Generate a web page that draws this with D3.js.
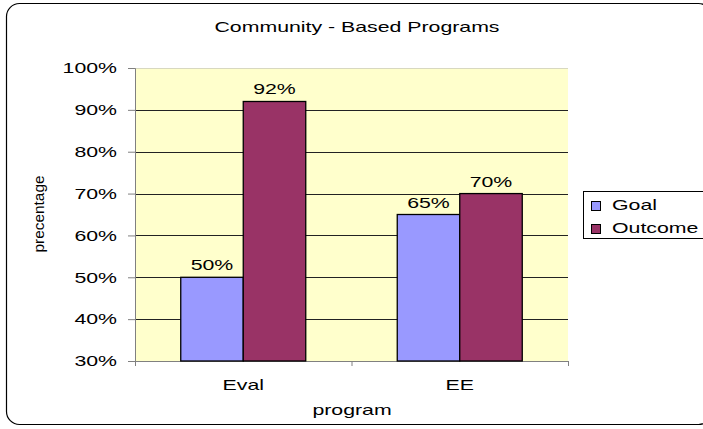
<!DOCTYPE html>
<html>
<head>
<meta charset="utf-8">
<script src="https://cdn.jsdelivr.net/npm/d3@7"></script>
<style>
  body { margin: 0; background: #fff; }
  text { font-family: "Liberation Sans", Arial, sans-serif; fill: #000; }
</style>
</head>
<body>
<div id="chart"></div>
<script>
var categories = ["Eval", "EE"];
var seriesNames = ["Goal", "Outcome"];
var goalValues = [0.50, 0.65];
var outcomeValues = [0.92, 0.70];
var seriesColors = ["#9999FF", "#993366"];
var yTicks = [0.3, 0.4, 0.5, 0.6, 0.7, 0.8, 0.9, 1.0];

var width = 703, height = 429;
var plot = { left: 135, top: 68, right: 568, bottom: 361 };
var stretch = 1.42; // the original text is drawn wide

var svg = d3.select("#chart").append("svg")
  .attr("width", width)
  .attr("height", height);

// put a text at x,y and widen it horizontally
function wide(sel, x, y) {
  return sel.attr("x", 0).attr("y", 0)
    .attr("transform", "translate(" + x + "," + y + ") scale(" + stretch + ",1)");
}

// outer chart frame
svg.append("rect")
  .attr("x", 6.5).attr("y", 3.5)
  .attr("width", 705).attr("height", 421)
  .attr("rx", 13).attr("ry", 13)
  .attr("fill", "#fff")
  .attr("stroke", "#000")
  .attr("stroke-width", 1.2);

var x0 = d3.scaleBand()
  .domain(categories)
  .range([plot.left, plot.right])
  .paddingInner(0)
  .paddingOuter(0);

var x1 = d3.scaleBand()
  .domain(seriesNames)
  .range([0, 125]);

var y = d3.scaleLinear()
  .domain([0.3, 1.0])
  .range([plot.bottom, plot.top]);

// plot area
svg.append("rect")
  .attr("x", plot.left).attr("y", plot.top)
  .attr("width", plot.right - plot.left)
  .attr("height", plot.bottom - plot.top)
  .attr("fill", "#FFFFCC");

svg.append("line")
  .attr("x1", plot.left).attr("x2", plot.right)
  .attr("y1", plot.top + 0.5).attr("y2", plot.top + 0.5)
  .attr("stroke", "#d8d8c0");

// gridlines
svg.append("g")
  .selectAll("line")
  .data(yTicks.filter(function(d) { return d > 0.3 && d < 1.0; }))
  .enter().append("line")
  .attr("x1", plot.left).attr("x2", plot.right)
  .attr("y1", function(d) { return Math.round(y(d)) + 0.5; })
  .attr("y2", function(d) { return Math.round(y(d)) + 0.5; })
  .attr("stroke", "#222");

// y axis
var yAxis = d3.axisLeft(y)
  .tickValues(yTicks)
  .tickFormat(d3.format(".0%"))
  .tickSize(7)
  .tickPadding(11);

var gy = svg.append("g")
  .attr("transform", "translate(" + plot.left + ",0)")
  .call(yAxis);
gy.select(".domain").attr("stroke", "#808080");
gy.selectAll(".tick line").attr("stroke", "#808080");
gy.selectAll(".tick text")
  .attr("font-size", 15)
  .attr("font-family", "Liberation Sans, Arial, sans-serif")
  .attr("fill", "#000")
  .each(function() {
    var t = d3.select(this);
    var tx = +t.attr("x");
    wide(t, tx, 0);
  });

// x axis
svg.append("line")
  .attr("x1", plot.left).attr("x2", plot.right)
  .attr("y1", plot.bottom + 0.5).attr("y2", plot.bottom + 0.5)
  .attr("stroke", "#808080");

svg.append("g")
  .selectAll("line")
  .data([plot.left, x0("EE"), plot.right])
  .enter().append("line")
  .attr("x1", function(d) { return d + 0.5; })
  .attr("x2", function(d) { return d + 0.5; })
  .attr("y1", plot.bottom).attr("y2", plot.bottom + 5)
  .attr("stroke", "#808080");

svg.append("g")
  .selectAll("text")
  .data(categories)
  .enter().append("text")
  .attr("text-anchor", "middle")
  .attr("font-size", 15)
  .text(function(d) { return d; })
  .each(function(d) {
    wide(d3.select(this), x0(d) + x0.bandwidth() / 2, 390);
  });

// bars
var data = categories.map(function(c, i) {
  return { cat: c, values: [goalValues[i], outcomeValues[i]] };
});

var groups = svg.append("g")
  .selectAll("g")
  .data(data)
  .enter().append("g")
  .attr("transform", function(d) {
    return "translate(" + (x0(d.cat) + (x0.bandwidth() - 125) / 2) + ",0)";
  });

groups.selectAll("rect")
  .data(function(d) {
    return d.values.map(function(v, i) { return { name: seriesNames[i], value: v, color: seriesColors[i] }; });
  })
  .enter().append("rect")
  .attr("x", function(d) { return x1(d.name); })
  .attr("y", function(d) { return y(d.value); })
  .attr("width", x1.bandwidth())
  .attr("height", function(d) { return y(0.3) - y(d.value); })
  .attr("fill", function(d) { return d.color; })
  .attr("stroke", "#000")
  .attr("stroke-width", 1.3);

groups.selectAll("text")
  .data(function(d) {
    return d.values.map(function(v, i) { return { name: seriesNames[i], value: v }; });
  })
  .enter().append("text")
  .attr("text-anchor", "middle")
  .attr("font-size", 15)
  .text(function(d) { return d3.format(".0%")(d.value); })
  .each(function(d) {
    wide(d3.select(this), x1(d.name) + x1.bandwidth() / 2, y(d.value) - 7);
  });

// titles
wide(svg.append("text"), 357, 32)
  .attr("text-anchor", "middle")
  .attr("font-size", 15)
  .text("Community - Based Programs");

wide(svg.append("text"), 352, 415)
  .attr("text-anchor", "middle")
  .attr("font-size", 15)
  .text("program");

svg.append("text")
  .attr("transform", "translate(44,214) rotate(-90)")
  .attr("text-anchor", "middle")
  .attr("font-size", 15)
  .attr("textLength", 77)
  .attr("lengthAdjust", "spacingAndGlyphs")
  .text("precentage");

// legend
var legend = svg.append("g").attr("transform", "translate(583,191)");
legend.append("rect")
  .attr("x", 0.5).attr("y", 0.5)
  .attr("width", 130).attr("height", 47)
  .attr("fill", "#fff")
  .attr("stroke", "#000");

var items = legend.selectAll("g")
  .data(seriesNames)
  .enter().append("g")
  .attr("transform", function(d, i) { return "translate(0," + (i * 23) + ")"; });

items.append("rect")
  .attr("x", 8.5).attr("y", 10.5)
  .attr("width", 9).attr("height", 9)
  .attr("fill", function(d, i) { return seriesColors[i]; })
  .attr("stroke", "#000");

items.append("text")
  .attr("font-size", 15)
  .text(function(d) { return d; })
  .each(function() {
    wide(d3.select(this), 29, 19);
  });
</script>
</body>
</html>
